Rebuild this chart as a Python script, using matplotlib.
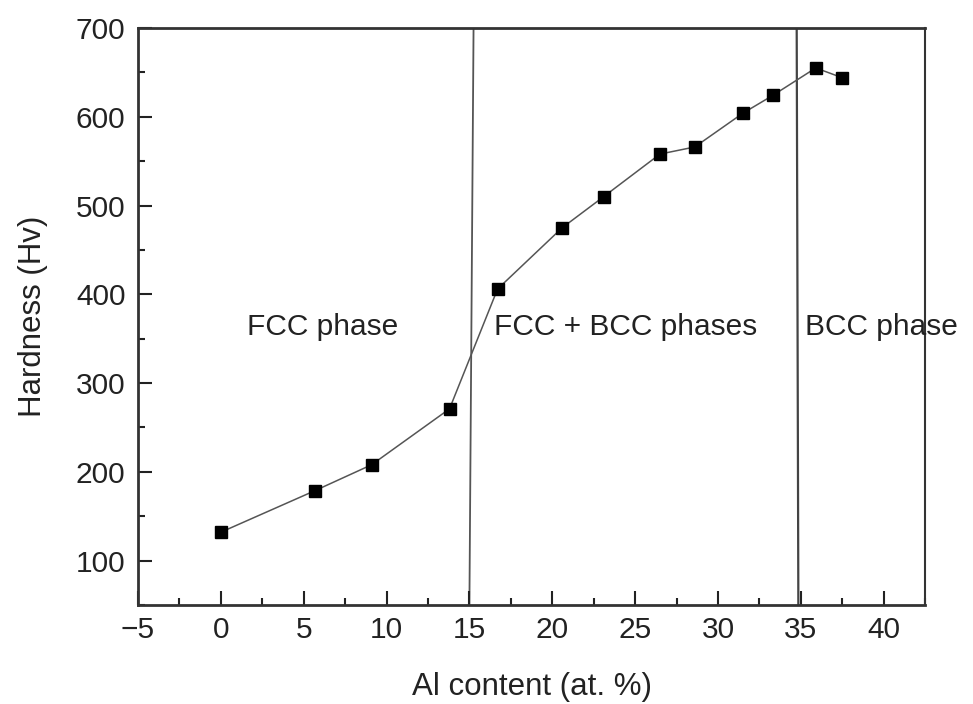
import matplotlib
matplotlib.use("Agg")
import matplotlib.pyplot as plt
from matplotlib.ticker import MultipleLocator

plt.rcParams['font.family'] = ['Liberation Sans', 'DejaVu Sans']

# Al content (at. %) and Vickers hardness
al_content = [0, 5.7, 9.1, 13.8, 16.7, 20.6, 23.1, 26.5, 28.6, 31.5, 33.3, 35.9, 37.5]
hardness = [132, 179, 208, 271, 406, 475, 510, 558, 566, 604, 624, 655, 644]

# phase boundaries
fcc_limit = [15.25, 15.0]
bcc_limit = [34.75, 34.85]

phase_labels = ["FCC phase", "FCC + BCC phases", "BCC phase"]
phase_x = [1.6, 16.5, 35.25]
phase_y = 354

fig = plt.figure(figsize=(9.73, 7.04), dpi=100)
ax = fig.add_axes([0.1418, 0.1406, 0.809, 0.8196])

ax.plot(fcc_limit, [700, 50], color='#555555', lw=1.3, zorder=1)
ax.plot(bcc_limit, [700, 50], color='#444444', lw=1.6, zorder=1)

ax.plot(al_content, hardness, color='#555555', lw=1.1,
        marker='s', markersize=8.5, markerfacecolor='black',
        markeredgecolor='black', zorder=3)

for lab, px in zip(phase_labels, phase_x):
    ax.text(px, phase_y, lab, fontsize=21.5, ha='left', va='baseline',
            color='#222222', clip_on=False)

ax.set_xlim(-5, 42.5)
ax.set_ylim(50, 700)
ax.xaxis.set_major_locator(MultipleLocator(5))
ax.xaxis.set_minor_locator(MultipleLocator(2.5))
ax.yaxis.set_major_locator(MultipleLocator(100))
ax.yaxis.set_minor_locator(MultipleLocator(50))
ax.set_yticks(range(100, 701, 100))

ax.tick_params(which='both', direction='in', top=False, right=False,
               labelsize=21.5, colors='#222222', width=1.5)
ax.tick_params(axis='x', pad=8)
ax.tick_params(axis='y', pad=9)
ax.tick_params(which='major', length=10)
ax.tick_params(which='minor', length=5)

for side in ['left', 'bottom', 'top']:
    ax.spines[side].set_linewidth(2)
ax.spines['right'].set_linewidth(1.5)
for sp in ax.spines.values():
    sp.set_color('#333333')

ax.set_xlabel("Al content (at. %)", fontsize=22.5, color='#222222', labelpad=20)
ax.set_ylabel("Hardness (Hv)", fontsize=22.5, color='#222222', labelpad=20)

fig.savefig("out.png", dpi=100)
